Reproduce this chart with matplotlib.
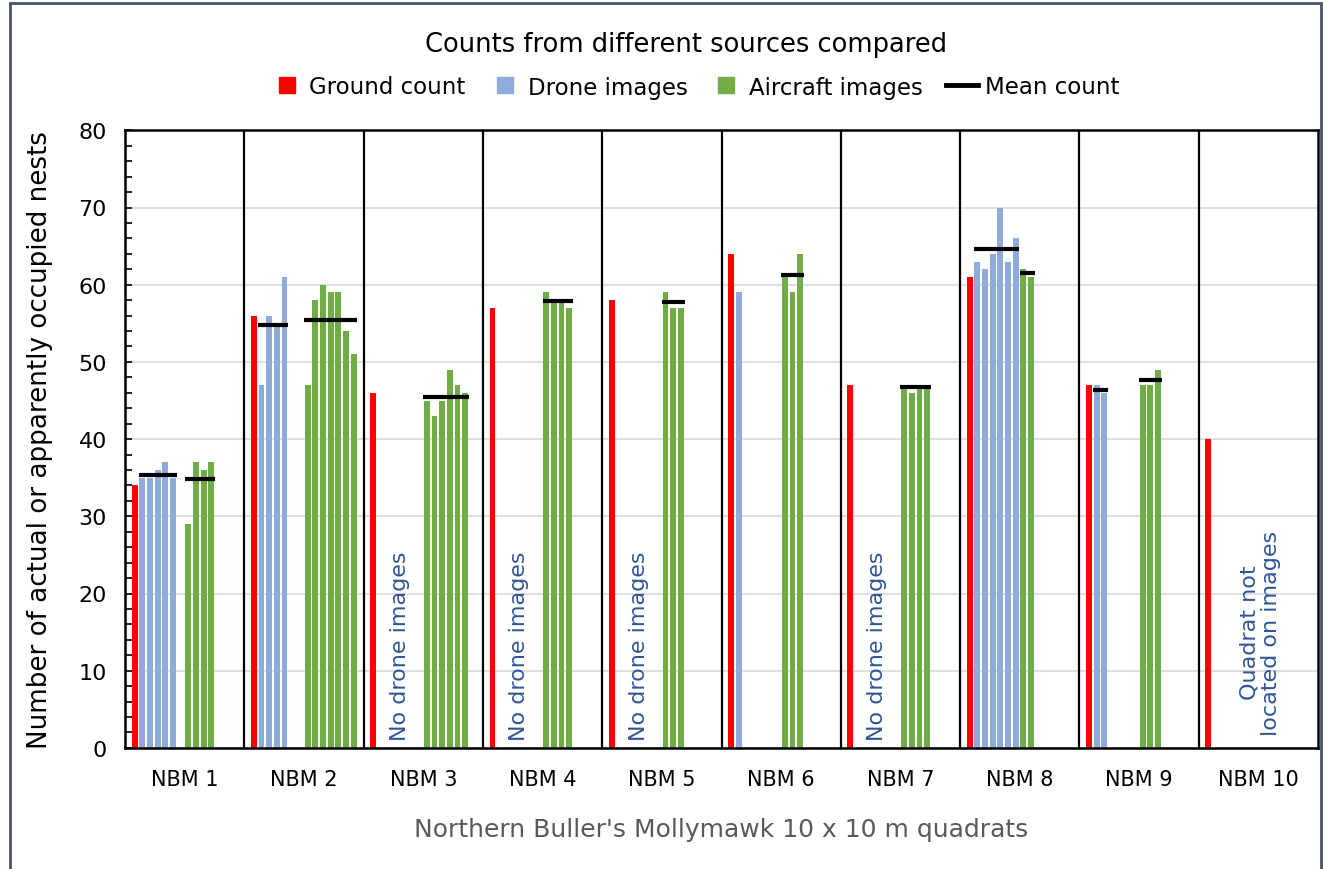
import matplotlib
matplotlib.use("Agg")
import matplotlib.pyplot as plt
from matplotlib.lines import Line2D
from matplotlib.patches import Rectangle

plt.rcParams['font.family'] = ['DejaVu Sans']

# ---------------- data ----------------
quadrats = ["NBM 1", "NBM 2", "NBM 3", "NBM 4", "NBM 5",
            "NBM 6", "NBM 7", "NBM 8", "NBM 9", "NBM 10"]
ground = [34, 56, 46, 57, 58, 64, 47, 61, 47, 40]
drone = [[35, 35, 36, 37, 35], [47, 56, 55, 61], [], [], [], [59], [],
         [63, 62, 64, 70, 63, 66], [47, 46], []]
aircraft = [[29, 37, 36, 37], [47, 58, 60, 59, 59, 54, 51],
            [45, 43, 45, 49, 47, 46], [59, 58, 58, 57], [59, 57, 57],
            [61, 59, 64], [47, 46, 47, 47], [62, 61], [47, 47, 49], []]
drone_mean = [35.4, 54.8, None, None, None, None, None, 64.6, 46.4, None]
aircraft_mean = [34.8, 55.4, 45.5, 57.9, 57.7, 61.3, 46.8, 61.5, 47.7, None]
notes = ["", "", "No drone images", "No drone images", "No drone images",
         "", "No drone images", "", "", "Quadrat not\nlocated on images"]

# ---------------- style ----------------
RED = "#FF0000"
BLUE = "#8FAADC"
GREEN = "#70AD47"
NOTE = "#2F5597"
G = 15.55        # group width in slot units
OFF = 1.25       # offset of first bar in a group
BW = 0.76        # bar width
AIR0 = 7         # first aircraft slot

W, H = 1323, 870
fig = plt.figure(figsize=(W / 100, H / 100), dpi=100)
ax = fig.add_axes([125 / W, 1 - 748.9 / H, (1318 - 125) / W, (748.9 - 131.3) / H])

for g in range(len(quadrats)):
    base = g * G + OFF
    ax.bar(base, ground[g], width=BW, color=RED, zorder=2)
    if drone[g]:
        xs = [base + 1 + i for i in range(len(drone[g]))]
        ax.bar(xs, drone[g], width=BW, color=BLUE, zorder=2)
        if drone_mean[g] is not None:
            ax.plot([xs[0] - BW / 2 - 0.1, xs[-1] + BW / 2 + 0.1],
                    [drone_mean[g]] * 2, color="black", lw=3.0,
                    solid_capstyle="butt", zorder=3)
    if aircraft[g]:
        xs = [base + AIR0 + i for i in range(len(aircraft[g]))]
        ax.bar(xs, aircraft[g], width=BW, color=GREEN, zorder=2)
        if aircraft_mean[g] is not None:
            ax.plot([xs[0] - BW / 2 - 0.1, xs[-1] + BW / 2 + 0.1],
                    [aircraft_mean[g]] * 2, color="black", lw=3.0,
                    solid_capstyle="butt", zorder=3)
    if notes[g]:
        if "\n" in notes[g]:
            ax.text(g * G + G * 0.5 + 0.3, 15.0, notes[g], rotation=90,
                    ha="center", va="center", multialignment="center",
                    color=NOTE, fontsize=16, linespacing=1.1, zorder=4)
        else:
            ax.text(base + 3.5, 1.0, notes[g], rotation=90, ha="center",
                    va="bottom", color=NOTE, fontsize=16, zorder=4)

# separators between groups
for g in range(1, len(quadrats)):
    ax.axvline(g * G, color="black", lw=1.6, zorder=3)

ax.set_xlim(0, G * len(quadrats))
ax.set_ylim(0, 80)
ax.set_yticks(range(0, 81, 10))
ax.set_yticks(range(0, 81, 2), minor=True)
ax.set_xticks([g * G + G / 2 for g in range(len(quadrats))])
ax.set_xticklabels(quadrats)
ax.tick_params(axis="x", length=0, pad=15, labelsize=15)
ax.tick_params(axis="y", which="both", direction="in", length=5, width=1.2,
               pad=13, labelsize=16)
ax.yaxis.grid(True, color="#D9D9D9", lw=1.2, zorder=0)
ax.set_axisbelow(True)
for s in ax.spines.values():
    s.set_color("black")
    s.set_linewidth(1.8)

ax.set_ylabel("Number of actual or apparently occupied nests", fontsize=18.8,
              labelpad=18)
ax.set_xlabel("Northern Buller's Mollymawk 10 x 10 m quadrats", fontsize=18,
              color="#595959", labelpad=20)

fig.text(686 / W, 1 - 45 / H,
         "Counts from different sources compared", ha="center", va="center",
         fontsize=18.5)

handles = [
    Line2D([], [], marker="s", linestyle="none", markersize=11, color=RED),
    Line2D([], [], marker="s", linestyle="none", markersize=11, color=BLUE),
    Line2D([], [], marker="s", linestyle="none", markersize=11, color=GREEN),
    Line2D([], [], color="black", lw=3.5),
]
labels = ["Ground count", "Drone images", "Aircraft images", "Mean count"]
fig.legend(handles, labels, loc="center", bbox_to_anchor=(695 / W, 1 - 88 / H),
           ncol=4, frameon=False, fontsize=16.5, handlelength=1.4,
           handletextpad=0.3, columnspacing=1.0)

# outer border of the chart area
fig.add_artist(Rectangle((10 / W, -0.05), (1321 - 10) / W, 1.05 - 4 / H,
                         transform=fig.transFigure, fill=False,
                         edgecolor="#44546A", lw=2.0))

fig.savefig("out.png", dpi=100)
